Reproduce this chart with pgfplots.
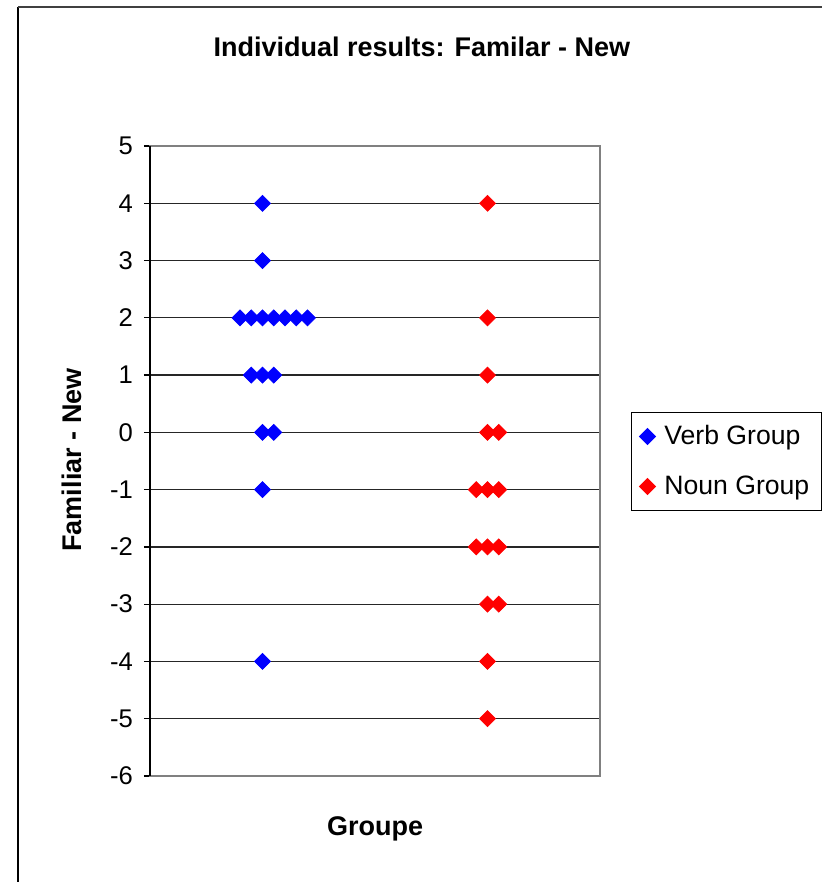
\documentclass[border=0pt]{standalone}
\usepackage{pgfplots}
\pgfplotsset{compat=1.18}
\usepackage{fontspec}
\setmainfont{Liberation Sans}

% Individual scores: x positions are jittered so tied values sit side by side
\pgfplotstableread{
x   y
1.0  4
1.0  3
0.8  2
0.9  2
1.0  2
1.1  2
1.2  2
1.3  2
1.4  2
0.9  1
1.0  1
1.1  1
1.0  0
1.1  0
1.0 -1
1.0 -4
}\verbdata

\pgfplotstableread{
x   y
3.0  4
3.0  2
3.0  1
3.0  0
3.1  0
2.9 -1
3.0 -1
3.1 -1
2.9 -2
3.0 -2
3.1 -2
3.0 -3
3.1 -3
3.0 -4
3.0 -5
}\noundata

\definecolor{frameGray}{RGB}{128,128,128}

\begin{document}
\begin{tikzpicture}
\useasboundingbox (-75pt,-53pt) rectangle (339.5pt,388pt);
% outer chart frame
\draw[black, line width=0.6pt] (-66pt,-60pt) -- (-66pt,384.5pt);
\draw[black!75, line width=1pt] (-66pt,384.5pt) -- (336pt,384.5pt);
\begin{axis}[
  scale only axis,
  width=225pt, height=315pt,
  at={(0pt,0pt)}, anchor=south west,
  xmin=0, xmax=4,
  ymin=-6, ymax=5,
  xtick=\empty,
  ytick={-6,-5,...,5},
  ytick pos=left,
  tick align=outside,
  major tick length=3pt,
  tick style={black, line width=0.6pt},
  ymajorgrids,
  major grid style={black!85, line width=0.6pt},
  axis line style={frameGray, line width=1.1pt},
  /pgf/number format/assume math mode=true,
  yticklabel style={font=\fontsize{12.8}{14}\selectfont, xshift=-2pt},
  title={Individual results: Familar - New},
  title style={font=\bfseries\fontsize{13.5}{15}\selectfont, at={(0.604,1.157)}, anchor=center, yshift=-6pt},
  xlabel={Groupe},
  xlabel style={font=\bfseries\fontsize{13.5}{15}\selectfont, at={(0.5,-0.084)}, anchor=center},
  ylabel={Familiar - New},
  ylabel style={font=\bfseries\fontsize{13.5}{15}\selectfont, at={(-0.173,0.5016)}, anchor=center, rotate=0},
  clip=false,
  legend style={
    at={(1.069,0.578)}, anchor=north west,
    draw=black, line width=0.5pt,
    font=\fontsize{13.3}{15}\selectfont,
    inner xsep=4pt, inner ysep=4.5pt,
    row sep=10pt,
    cells={anchor=west},
    /tikz/every odd column/.append style={column sep=2.5pt},
  },
  legend image code/.code={
    \draw[#1] plot coordinates {(0pt,0pt)};
  },
]
\addplot[only marks, mark=square*, mark size=2.8pt,
  mark options={rotate=45, draw=none, fill=blue}, color=blue] table {\verbdata};
\addlegendentry{Verb Group}
\addplot[only marks, mark=square*, mark size=2.8pt,
  mark options={rotate=45, draw=none, fill=red}, color=red] table {\noundata};
\addlegendentry{Noun Group}
% left value axis in black
\draw[black, line width=0.8pt] (rel axis cs:0,0) -- (rel axis cs:0,1);
\end{axis}
\end{tikzpicture}
\end{document}
